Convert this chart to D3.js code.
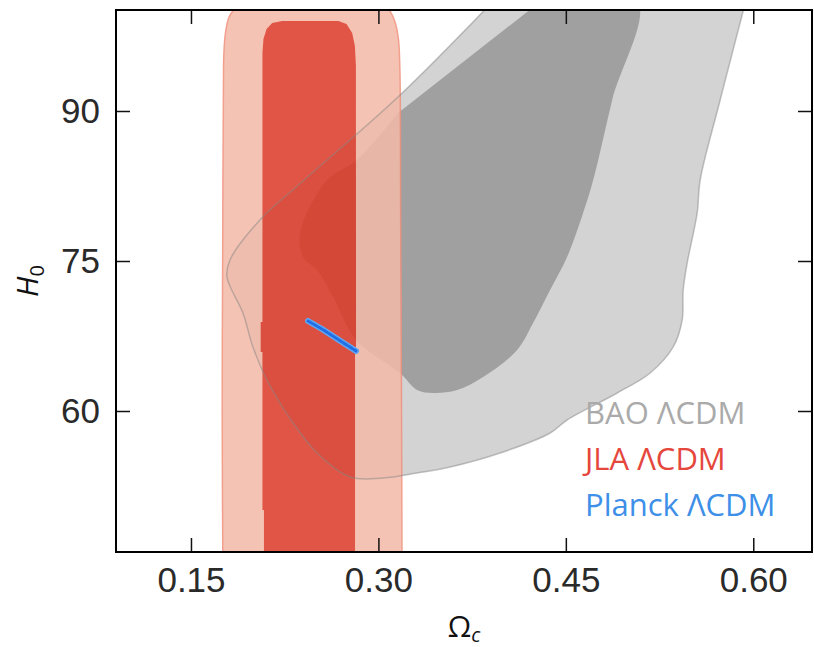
<!DOCTYPE html>
<html>
<head>
<meta charset="utf-8">
<script src="https://cdn.jsdelivr.net/npm/d3@7"></script>
<style>
  body { margin: 0; background: #fff; }
  .tick text { font-family: "Liberation Sans Narrow", "Liberation Sans", sans-serif; font-size: 35px; fill: #2a2a2a; }
  .tick line { stroke: #111; stroke-width: 1.5; }
  .legend { font-family: "Open Sans", sans-serif; font-size: 31px; }
</style>
</head>
<body>
<svg id="chart" width="814" height="647"></svg>
<script>
// contour outlines, [Omega_c, H0]
const baoOuter = [
  [0.392, 101], [0.3157, 91.4], [0.2397, 83.0], [0.2052, 79.1], [0.1812, 75.1],
  [0.1788, 73.4], [0.1916, 69.8], [0.1996, 66.4], [0.2108, 63.1], [0.2317, 58.8],
  [0.2509, 55.8], [0.2773, 53.4], [0.3037, 53.3], [0.3309, 53.8], [0.3574, 54.4],
  [0.3974, 55.8], [0.4374, 57.8], [0.4510, 59.1], [0.4911, 61.8], [0.5175, 63.8],
  [0.5359, 66.4], [0.5431, 69.1], [0.5439, 72.1], [0.5471, 74.8], [0.5551, 79.8],
  [0.5575, 83.1], [0.5735, 91.1], [0.594, 101]
];
const baoInner = [
  [0.4302, 101], [0.5071, 101], [0.4871, 91.1], [0.4719, 83.1], [0.4638, 79.8],
  [0.4510, 75.4], [0.4374, 72.1], [0.4238, 68.8], [0.4110, 66.1], [0.3838, 63.4],
  [0.3630, 62.1], [0.3438, 61.8], [0.3309, 62.1], [0.3173, 63.8], [0.2821, 67.1],
  [0.2637, 71.4], [0.2509, 74.1], [0.2397, 75.4], [0.2373, 77.8], [0.2589, 83.1],
  [0.2829, 85.1], [0.3157, 89.8]
];
const jlaOuter = [
  [0.1757, 40], [0.1750, 60], [0.1755, 80], [0.1760, 93.0], [0.1763, 95.6],
  [0.1776, 97.8], [0.1805, 99.4], [0.1850, 100.2], [0.1900, 100.6], [0.3020, 100.6],
  [0.3085, 100.1], [0.3130, 99.0], [0.3160, 97.2], [0.3172, 94.0], [0.3178, 80],
  [0.3185, 60], [0.3190, 40]
];
const jlaInner = [
  [0.2084, 40], [0.2084, 50.1], [0.2072, 50.1], [0.2072, 65.9], [0.2058, 65.9],
  [0.2058, 68.9], [0.2072, 68.9], [0.2072, 95.8], [0.2080, 97.2], [0.2105, 98.2],
  [0.2150, 98.8], [0.2230, 99.0], [0.2680, 99.0], [0.2745, 98.7], [0.2790, 97.8],
  [0.2812, 96.5], [0.2820, 94.5], [0.2821, 66.4], [0.2813, 66.4], [0.2813, 40]
];
const planck = [[0.2437, 69.0], [0.2555, 68.15], [0.2690, 67.05], [0.2821, 66.0]];

const xTicks = [0.15, 0.30, 0.45, 0.60];
const yTicks = [60, 75, 90];
const legendNames = ['BAO \u039BCDM', 'JLA \u039BCDM', 'Planck \u039BCDM'];
const legendColors = ['#aaaaaa', '#e5473d', '#3d8fe8'];

const margin = {left: 116, top: 10, right: 2, bottom: 95};
const width = 814 - margin.left - margin.right;
const height = 647 - margin.top - margin.bottom;

const svg = d3.select('#chart');
const g = svg.append('g').attr('transform', `translate(${margin.left},${margin.top})`);

const x = d3.scaleLinear().domain([0.09, 0.647]).range([0, width]);
const y = d3.scaleLinear().domain([45.9, 100.1]).range([height, 0]);

svg.append('defs').append('clipPath').attr('id', 'plotclip')
  .append('rect').attr('width', width).attr('height', height);

const plot = g.append('g').attr('clip-path', 'url(#plotclip)');

const smooth = d3.line().x(d => x(d[0])).y(d => y(d[1])).curve(d3.curveCatmullRom);
const straight = d3.line().x(d => x(d[0])).y(d => y(d[1]));

// BAO
plot.append('path').attr('d', smooth(baoOuter) + 'Z').attr('fill', '#d3d3d3');
plot.append('path').attr('d', smooth(baoInner) + 'Z').attr('fill', '#a0a0a0');

// JLA
const jla = plot.append('g').attr('opacity', 0.86);
jla.append('path').attr('d', smooth(jlaOuter) + 'Z')
  .attr('fill', '#f4baa7').attr('stroke', '#f0907c').attr('stroke-width', 1.5);
jla.append('path').attr('d', straight(jlaInner) + 'Z').attr('fill', '#dd3a28');

// BAO outline on top
plot.append('path').attr('d', smooth(baoOuter))
  .attr('fill', 'none').attr('stroke', '#888').attr('stroke-opacity', 0.5).attr('stroke-width', 1.5);

// Planck
plot.append('path').attr('d', straight(planck)).attr('fill', 'none')
  .attr('stroke', '#62a6f2').attr('stroke-width', 6).attr('stroke-linecap', 'round');
plot.append('path').attr('d', straight(planck)).attr('fill', 'none')
  .attr('stroke', '#1f6fe6').attr('stroke-width', 3).attr('stroke-linecap', 'round')
  .attr('stroke-dasharray', '4 2');

// axes with inward ticks
const tk = -14;
g.append('g').attr('transform', `translate(0,${height})`)
  .call(d3.axisBottom(x).tickValues(xTicks).tickFormat(d3.format('.2f')).tickSize(tk).tickPadding(15))
  .call(a => a.select('.domain').remove());
g.append('g')
  .call(d3.axisTop(x).tickValues(xTicks).tickFormat('').tickSize(tk))
  .call(a => a.select('.domain').remove());
g.append('g')
  .call(d3.axisLeft(y).tickValues(yTicks).tickFormat(d3.format('d')).tickSize(tk).tickPadding(16))
  .call(a => a.select('.domain').remove());
g.append('g').attr('transform', `translate(${width},0)`)
  .call(d3.axisRight(y).tickValues(yTicks).tickFormat('').tickSize(tk))
  .call(a => a.select('.domain').remove());

g.append('rect').attr('width', width).attr('height', height)
  .attr('fill', 'none').attr('stroke', '#000').attr('stroke-width', 2);

// legend
g.selectAll('.legend').data(legendNames).enter().append('text')
  .attr('class', 'legend')
  .attr('x', 469)
  .attr('y', (d, i) => 414 + i * 46)
  .attr('fill', (d, i) => legendColors[i])
  .text(d => d);

// axis labels
const xl = svg.append('text').attr('x', margin.left + width / 2).attr('y', 637)
  .attr('text-anchor', 'middle').attr('font-family', 'Open Sans, sans-serif').attr('font-size', 30).attr('fill', '#111');
xl.append('tspan').text('\u03A9');
xl.append('tspan').attr('font-size', 20).attr('dy', 5).attr('font-style', 'italic').text('c');

const yl = svg.append('text').attr('transform', `translate(38,${margin.top + height / 2}) rotate(-90)`)
  .attr('text-anchor', 'middle').attr('font-family', 'Open Sans, sans-serif').attr('font-size', 30).attr('fill', '#111');
yl.append('tspan').attr('font-style', 'italic').text('H');
yl.append('tspan').attr('font-size', 20).attr('dy', 6).text('0');
</script>
</body>
</html>
